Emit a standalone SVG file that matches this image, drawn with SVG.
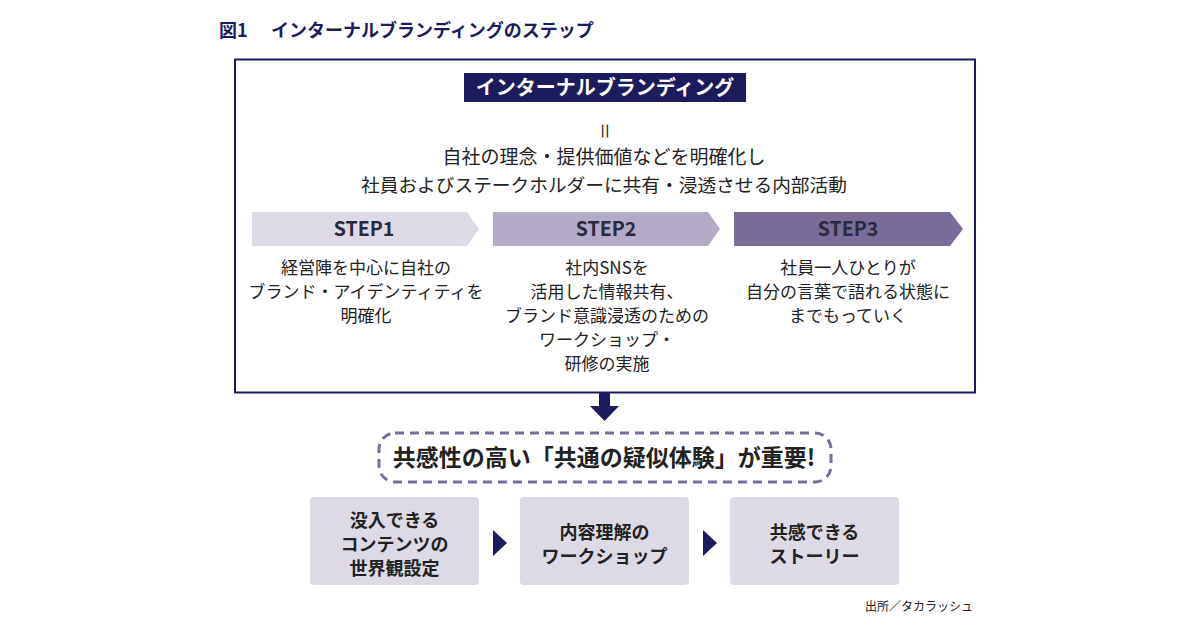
<svg xmlns="http://www.w3.org/2000/svg" width="1200" height="630" viewBox="0 0 1200 630">
<defs>
<style>
text{font-family:"Noto Sans CJK JP","Noto Sans",sans-serif;fill:#222;}
.c{text-anchor:middle;}
.b{font-weight:bold;}
.desc{font-size:17px;}
.step{font-size:19.5px;font-weight:bold;fill:#2a2a3a;}
.bx{fill:#dddae6;}
.bt{font-size:18px;font-weight:bold;text-anchor:middle;fill:#222;}
.tri{fill:#1b1b5e;}
</style>
</defs>
<rect width="1200" height="630" fill="#fff"/>
<g id="title">
<text x="219" y="37" class="b" style="font-size:18px;fill:#1b1b5e">図1</text>
<text x="271" y="37" class="b" style="font-size:18px;fill:#1b1b5e">インターナルブランディングのステップ</text>
</g>
<g id="mainbox">
<rect x="235" y="59.5" width="740" height="333" fill="#fff" stroke="#1b1b5e" stroke-width="2"/>
<rect x="464" y="73" width="282" height="29" fill="#1b1b5e"/>
<text x="605" y="95" class="c b" style="font-size:20px;fill:#fff">インターナルブランディング</text>
<text x="0" y="0" class="c" style="font-size:18px" transform="translate(604,131) rotate(90) translate(0,6)">＝</text>
<text x="604" y="164" class="c" style="font-size:19px">自社の理念・提供価値などを明確化し</text>
<text x="604" y="192" class="c" style="font-size:18.7px">社員およびステークホルダーに共有・浸透させる内部活動</text>
</g>
<g id="step1">
<polygon points="252,212 467,212 479,229 467,246 252,246" fill="#dddae6"/>
<text x="364" y="236" class="c step">STEP1</text>
<text x="366" y="274" class="c desc">経営陣を中心に自社の</text>
<text x="366" y="298" class="c desc">ブランド・アイデンティティを</text>
<text x="366" y="322" class="c desc">明確化</text>
</g>
<g id="step2">
<polygon points="493,212 708,212 720,229 708,246 493,246" fill="#b3abc6"/>
<text x="606" y="236" class="c step">STEP2</text>
<text x="607" y="274" class="c desc">社内SNSを</text>
<text x="607" y="298" class="c desc">活用した情報共有、</text>
<text x="607" y="322" class="c desc">ブランド意識浸透のための</text>
<text x="607" y="346" class="c desc">ワークショップ・</text>
<text x="607" y="370" class="c desc">研修の実施</text>
</g>
<g id="step3">
<polygon points="734,212 950,212 963,229 950,246 734,246" fill="#7a6c98"/>
<text x="848" y="236" class="c step">STEP3</text>
<text x="848" y="274" class="c desc">社員一人ひとりが</text>
<text x="848" y="298" class="c desc">自分の言葉で語れる状態に</text>
<text x="848" y="322" class="c desc">までもっていく</text>
</g>
<g id="connectors">
<polygon points="599,393 610,393 610,406 619,406 604.5,421 590,406 599,406" fill="#1b1b5e"/>
<polygon points="493,530 507,543 493,556" class="tri"/>
<polygon points="703,530 717,543 703,556" class="tri"/>
</g>
<g id="key">
<rect x="379" y="433" width="452" height="49" rx="16" ry="16" fill="none" stroke="#7a6c98" stroke-width="3" stroke-dasharray="9,6"/>
<text x="604" y="466" class="c b" style="font-size:23px">共感性の高い「共通の疑似体験」が重要!</text>
</g>
<g id="box1">
<rect x="310" y="497" width="169" height="88" rx="4" class="bx"/>
<text x="394.5" y="527" class="bt">没入できる</text>
<text x="394.5" y="551" class="bt">コンテンツの</text>
<text x="394.5" y="575" class="bt">世界観設定</text>
</g>
<g id="box2">
<rect x="520" y="497" width="169" height="88" rx="4" class="bx"/>
<text x="604.5" y="539" class="bt">内容理解の</text>
<text x="604.5" y="563" class="bt">ワークショップ</text>
</g>
<g id="box3">
<rect x="730" y="497" width="169" height="88" rx="4" class="bx"/>
<text x="814.5" y="539" class="bt">共感できる</text>
<text x="814.5" y="563" class="bt">ストーリー</text>
</g>
<g id="source">
<text x="973" y="611" style="font-size:12px;text-anchor:end">出所／タカラッシュ</text>
</g>
</svg>
